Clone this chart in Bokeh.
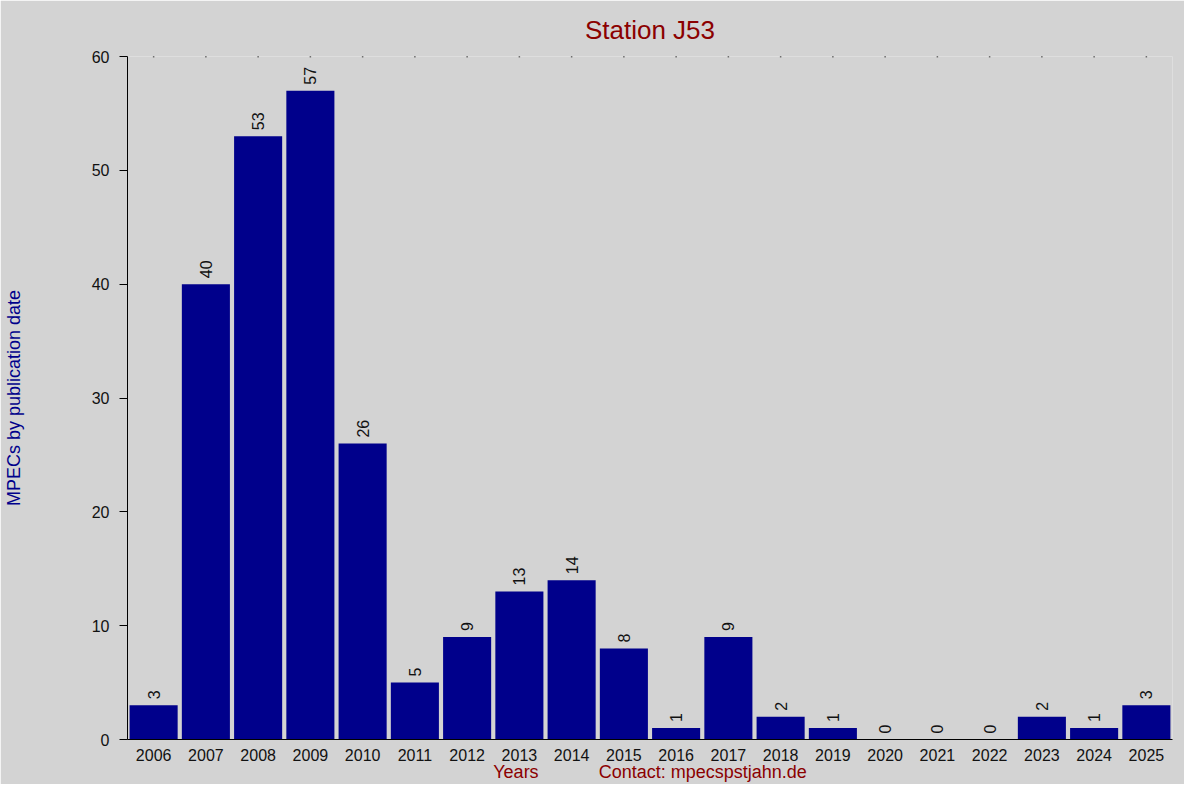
from math import pi
from bokeh.plotting import figure
from bokeh.models import ColumnDataSource, FactorRange
from bokeh.embed import file_html
from bokeh.resources import INLINE

# data
years = [str(y) for y in range(2006, 2026)]
counts = [3, 40, 53, 57, 26, 5, 9, 13, 14, 8, 1, 9, 2, 1, 0, 0, 0, 2, 1, 3]
y_ticks = [0, 10, 20, 30, 40, 50, 60]
y_max = 60

bg = '#d3d3d3'
bar_color = '#00008B'
red = '#8B0000'
font = 'Liberation Sans'

source = ColumnDataSource(data={
    'year': years,
    'count': counts,
    'label': [str(c) for c in counts],
    'top': [y_max] * len(years),
})

p = figure(title="Station J53",
           x_range=FactorRange(*years, range_padding=0),
           y_range=(0, y_max),
           width=1184, height=784,
           min_border_left=121, min_border_right=12,
           min_border_top=56, min_border_bottom=41,
           tools='', toolbar_location=None,
           output_backend="svg",
           )

p.background_fill_color = bg
p.border_fill_color = bg
p.outline_line_color = None
p.xgrid.grid_line_color = None
p.ygrid.grid_line_color = None

p.title.align = 'center'
p.title.text_color = red
p.title.text_font = font
p.title.text_font_size = '26px'
p.title.text_font_style = 'normal'
p.title.standoff = 24

p.vbar(x='year', top='count', width=0.92, source=source,
       fill_color=bar_color, line_color=None)

p.text(x='year', y='count', text='label', source=source,
       angle=pi / 2, text_align='left', text_baseline='middle',
       y_offset=-6, text_font_size='16px', text_color='#111111',
       text_font={'value': font})

# little dots along the top edge
p.scatter(x='year', y='top', source=source, marker='square', size=1.5,
          fill_color='black', line_color=None)

# y axis
p.yaxis.ticker = y_ticks
p.yaxis.axis_label = "MPECs by publication date"
p.yaxis.axis_label_text_color = bar_color
p.yaxis.axis_label_text_font = font
p.yaxis.axis_label_text_font_size = '18px'
p.yaxis.axis_label_text_font_style = 'normal'
p.yaxis.axis_label_standoff = 65
p.yaxis.major_label_text_font = font
p.yaxis.major_label_text_font_size = '16px'
p.yaxis.major_label_text_color = '#111111'
p.yaxis.major_label_standoff = 10
p.yaxis.major_tick_out = 8
p.yaxis.major_tick_in = 0
p.yaxis.minor_tick_line_color = None
p.yaxis.axis_line_color = 'black'
p.yaxis.major_tick_line_color = 'black'

# x axis
p.xaxis.axis_label = "Years" + "\u00a0" * 12 + "Contact: mpecspstjahn.de"
p.xaxis.axis_label_text_color = red
p.xaxis.axis_label_text_font = font
p.xaxis.axis_label_text_font_size = '18px'
p.xaxis.axis_label_text_font_style = 'normal'
p.xaxis.axis_label_standoff = -2
p.xaxis.major_label_text_font = font
p.xaxis.major_label_text_font_size = '16px'
p.xaxis.major_label_text_color = '#111111'
p.xaxis.major_label_standoff = 3
p.xaxis.major_tick_line_color = None
p.xaxis.axis_line_color = 'black'

open("out.html", "w").write(file_html(p, INLINE))
